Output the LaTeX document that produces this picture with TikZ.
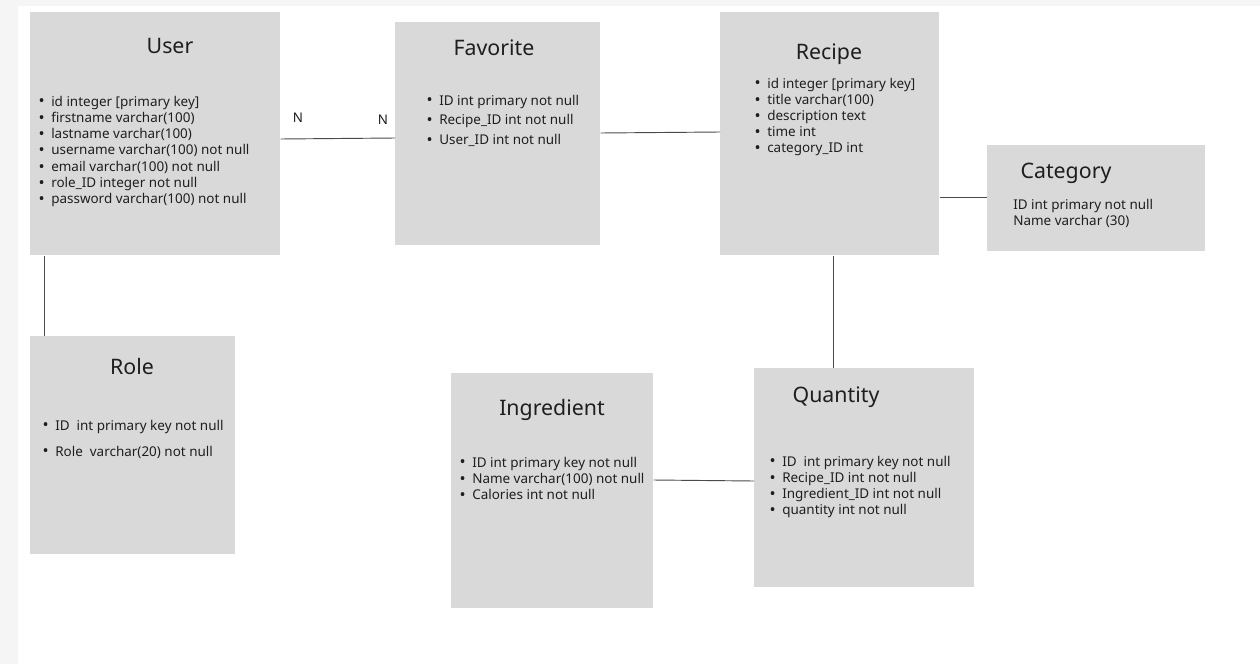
\documentclass[tikz,border=0pt]{standalone}
\usepackage{fontspec}
\setmainfont{Noto Sans}
\definecolor{boxgray}{HTML}{D9D9D9}
\definecolor{framegray}{HTML}{F5F5F5}
\definecolor{linegray}{HTML}{4A4A4A}
\definecolor{txt}{HTML}{1E1E1E}
\newcommand\pxu{0.75pt}
\tikzset{
  x=0.75pt, y=-0.75pt,
  tablebox/.style={fill=boxgray, draw=none, anchor=north west, inner sep=0pt},
  ttl/.style={font=\fontsize{16}{19}\selectfont, text=txt, anchor=base, inner sep=0pt},
  itm/.style={font=\fontsize{10.1}{12}\selectfont, text=txt, anchor=base west, inner sep=0pt},
  rel/.style={draw=linegray, line width=0.7pt},
  card/.style={font=\fontsize{10}{12}\selectfont, text=txt, inner sep=0pt}
}
\newcommand\bul[1]{\llap{\raisebox{-0.6pt}{\scalebox{1.2}{\textbullet}}\hspace{5pt}}#1}
\begin{document}
\begin{tikzpicture}
\useasboundingbox (0,0) rectangle (1260,664);
\fill[framegray] (0,0) rectangle (1260,664);
\fill[white] (18,6) rectangle (1260,664);

% boxes
\node[tablebox, minimum width=250*\pxu, minimum height=243*\pxu] (user) at (30,12) {};
\node[tablebox, minimum width=205*\pxu, minimum height=223*\pxu] (fav) at (395,22) {};
\node[tablebox, minimum width=219*\pxu, minimum height=243*\pxu] (recipe) at (720,12) {};
\node[tablebox, minimum width=218*\pxu, minimum height=106*\pxu] (cat) at (987,145) {};
\node[tablebox, minimum width=205*\pxu, minimum height=218*\pxu] (role) at (30,336) {};
\node[tablebox, minimum width=202*\pxu, minimum height=235*\pxu] (ingr) at (451,373) {};
\node[tablebox, minimum width=220*\pxu, minimum height=219*\pxu] (qty) at (754,368) {};

% titles
\node[ttl] (userT) at (170,53) {User};
\node[ttl] (favT) at (494,55) {Favorite};
\node[ttl] (recipeT) at (829,59) {Recipe};
\node[ttl] (catT) at (1066,178) {Category};
\node[ttl] (roleT) at (132,374) {Role};
\node[ttl] (ingrT) at (552,415) {Ingredient};
\node[ttl] (qtyT) at (836,402) {Quantity};

% User attributes
\foreach \t [count=\i] in {{id integer [primary key]},{firstname varchar(100)},{lastname varchar(100)},{username varchar(100) not null},{email varchar(100) not null},{role\_ID integer not null},{password varchar(100) not null}}
  \node[itm] (u\i) at (51,{106+16.33*(\i-1)}) {\bul{\t}};

% Favorite attributes
\foreach \t [count=\i] in {{ID int primary not null},{Recipe\_ID int not null},{User\_ID int not null}}
  \node[itm] (f\i) at (439,{105+19.7*(\i-1)}) {\bul{\t}};

% Recipe attributes
\foreach \t [count=\i] in {{id integer [primary key]},{title varchar(100)},{description text},{time int},{category\_ID int}}
  \node[itm] (r\i) at (767,{88+16.2*(\i-1)}) {\bul{\t}};

% Category attributes
\node[itm] (c1) at (1013,209) {ID int primary not null};
\node[itm] (c2) at (1013,225) {Name varchar (30)};

% Role attributes
\node[itm] (ro1) at (55,430) {\bul{ID\ \ int primary key not null}};
\node[itm] (ro2) at (55,456) {\bul{Role\ \ varchar(20) not null}};

% Ingredient attributes
\foreach \t [count=\i] in {{ID int primary key not null},{Name varchar(100) not null},{Calories int not null}}
  \node[itm] (i\i) at (472,{467+16.4*(\i-1)}) {\bul{\t}};

% Quantity attributes
\foreach \t [count=\i] in {{ID\ \ int primary key not null},{Recipe\_ID int not null},{Ingredient\_ID int not null},{quantity int not null}}
  \node[itm] (q\i) at (782,{466+16.3*(\i-1)}) {\bul{\t}};

% cardinalities
\node[card] (n1) at (298,118) {N};
\node[card] (n2) at (383,120) {N};

% relations
\draw[rel] (user.east |- 0,139) -- (fav.west |- 0,138);
\draw[rel] (fav.east |- 0,133) -- (recipe.west |- 0,132);
\draw[rel] (recipe.east |- 0,197) -- (cat.west |- 0,197);
\draw[rel] (user.south -| 44,0) -- (role.north -| 44,0);
\draw[rel] (recipe.south -| 833,0) -- (qty.north -| 833,0);
\draw[rel] (ingr.east |- 0,480) -- (qty.west |- 0,481);
\end{tikzpicture}
\end{document}
